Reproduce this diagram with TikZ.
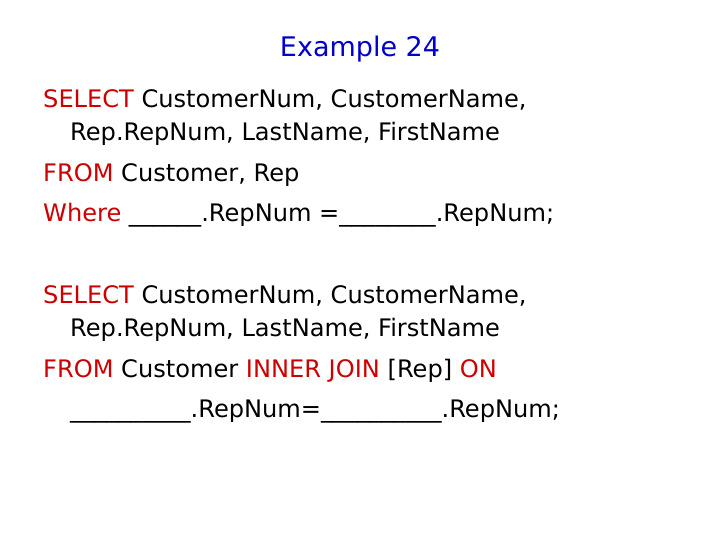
\documentclass[tikz,border=0pt]{standalone}
\usepackage{fontspec}
\setmainfont{DejaVu Sans}[Scale=1.0]
\definecolor{kw}{RGB}{204,0,0}
\definecolor{ttl}{RGB}{0,0,204}
\begin{document}
\begin{tikzpicture}[x=1pt,y=-1pt,
  ln/.style={anchor=base west,inner sep=0pt,font=\fontsize{24.1}{28}\selectfont}]
\useasboundingbox (0,0) rectangle (720,540);
\node[ln,anchor=base,font=\fontsize{27}{30}\selectfont] (t) at (360,57) {\textcolor{ttl}{Example 24}};
\node[ln] (a1) at (43,108) {\textcolor{kw}{SELECT} CustomerNum, CustomerName,};
\node[ln] (a2) at (70,141) {Rep.RepNum, LastName, FirstName};
\node[ln] (a3) at (43,182) {\textcolor{kw}{FROM} Customer, Rep};
\node[ln] (a4) at (43,222) {\textcolor{kw}{Where} \_\_\_\_\_\_.RepNum =\_\_\_\_\_\_\_\_.RepNum;};
\node[ln] (b1) at (43,303) {\textcolor{kw}{SELECT} CustomerNum, CustomerName,};
\node[ln] (b2) at (70,336) {Rep.RepNum, LastName, FirstName};
\node[ln] (b3) at (43,377) {\textcolor{kw}{FROM} Customer \textcolor{kw}{INNER JOIN} [Rep] \textcolor{kw}{ON}};
\node[ln] (b4) at (70,417) {\_\_\_\_\_\_\_\_\_\_.RepNum=\_\_\_\_\_\_\_\_\_\_.RepNum;};
\end{tikzpicture}
\end{document}
